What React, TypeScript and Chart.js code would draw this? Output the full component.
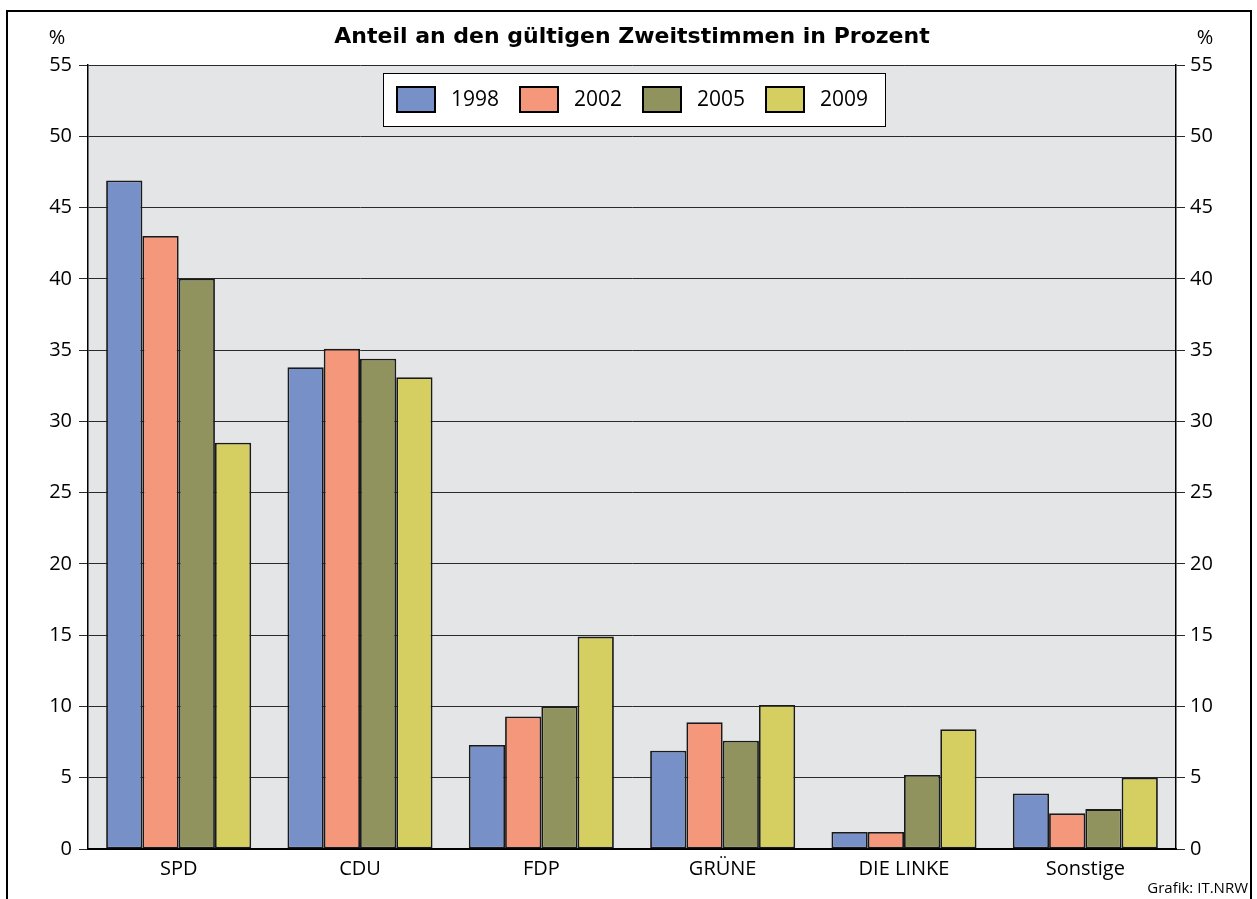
import React, { useEffect, useRef } from 'react';
import { Chart, registerables } from 'chart.js';

Chart.register(...registerables);

const categories = ['SPD', 'CDU', 'FDP', 'GRÜNE', 'DIE LINKE', 'Sonstige'];
const years = ['1998', '2002', '2005', '2009'];
const values1998 = [46.9, 33.8, 7.3, 6.9, 1.2, 3.9];
const values2002 = [43.0, 35.1, 9.3, 8.9, 1.2, 2.5];
const values2005 = [40.0, 34.4, 10.0, 7.6, 5.2, 2.8];
const values2009 = [28.5, 33.1, 14.9, 10.1, 8.4, 5.0];
const seriesColors = ['#7890c8', '#f5977a', '#91935f', '#d5cf62'];
const yMin = 0;
const yMax = 55;
const yStep = 5;
const titleText = 'Anteil an den gültigen Zweitstimmen in Prozent';
const unitLabel = '%';
const sourceText = 'Grafik: IT.NRW';

const FONT = '"Open Sans", "DejaVu Sans", sans-serif';
const TITLE_FONT = '"DejaVu Sans", sans-serif';

const decorPlugin = {
  id: 'decor',
  beforeDraw(chart: any) {
    const { ctx, chartArea } = chart;
    ctx.save();
    ctx.fillStyle = '#ffffff';
    ctx.fillRect(0, 0, chart.width, chart.height);
    ctx.fillStyle = '#e4e5e7';
    ctx.fillRect(chartArea.left, chartArea.top, chartArea.right - chartArea.left, chartArea.bottom - chartArea.top);
    ctx.restore();
  },
  afterDraw(chart: any) {
    const { ctx, chartArea } = chart;
    ctx.save();
    // frame
    ctx.strokeStyle = '#000';
    ctx.lineWidth = 2;
    ctx.strokeRect(7, 11, 1244, 940);
    // title
    ctx.fillStyle = '#000';
    ctx.font = `bold 22px ${TITLE_FONT}`;
    ctx.textAlign = 'center';
    ctx.textBaseline = 'middle';
    ctx.fillText(titleText, (chartArea.left + chartArea.right) / 2, 37);
    // unit labels
    ctx.font = `20px ${FONT}`;
    ctx.fillText(unitLabel, 57, 38);
    ctx.fillText(unitLabel, 1205, 38);
    // source
    ctx.font = `15px ${FONT}`;
    ctx.textAlign = 'right';
    ctx.fillText(sourceText, 1248, 889);
    // legend
    const lx = 383.5, ly = 73.5, lw = 502, lh = 53;
    ctx.fillStyle = '#ffffff';
    ctx.fillRect(lx, ly, lw, lh);
    ctx.strokeStyle = '#000';
    ctx.lineWidth = 1;
    ctx.strokeRect(lx, ly, lw, lh);
    ctx.font = `21px ${FONT}`;
    ctx.textAlign = 'left';
    ctx.textBaseline = 'middle';
    chart.data.datasets.forEach((ds: any, i: number) => {
      const sx = 397 + i * 123;
      ctx.fillStyle = ds.backgroundColor;
      ctx.fillRect(sx, 87, 38, 25);
      ctx.strokeStyle = '#000';
      ctx.lineWidth = 2;
      ctx.strokeRect(sx, 87, 38, 25);
      ctx.fillStyle = '#000';
      ctx.fillText(ds.label, sx + 54, 100);
    });
    ctx.restore();
  },
};

export default function App() {
  const ref = useRef<HTMLCanvasElement | null>(null);
  useEffect(() => {
    if (!ref.current) return;
    const allValues = [values1998, values2002, values2005, values2009];
    const chart = new Chart(ref.current, {
      type: 'bar',
      data: {
        labels: categories,
        datasets: years.map((y, i) => ({
          label: y,
          data: allValues[i],
          backgroundColor: seriesColors[i],
          borderColor: '#1a1a1a',
          borderWidth: 1.8,
          borderSkipped: false,
          categoryPercentage: 0.8,
          barPercentage: 1.0,
        })),
      },
      options: {
        responsive: false,
        animation: false,
        layout: { padding: { top: 65, left: 0, right: 0, bottom: 0 } },
        plugins: {
          legend: { display: false },
          title: { display: false },
          tooltip: { enabled: false },
        },
        scales: {
          x: {
            grid: { display: false, drawTicks: false },
            border: { display: true, color: '#000', width: 2 },
            ticks: { color: '#000', font: { family: FONT, size: 20 }, padding: 8 },
            afterFit(scale: any) { scale.height = 50; },
          },
          y: {
            position: 'left',
            min: yMin,
            max: yMax,
            ticks: { stepSize: yStep, color: '#000', font: { family: FONT, size: 20 }, padding: 7 },
            grid: { color: '#2a2a2a', lineWidth: 1, tickLength: 9, drawTicks: true },
            border: { display: true, color: '#000', width: 1.5 },
            afterFit(scale: any) { scale.width = 88; },
          },
          y2: {
            position: 'right',
            min: yMin,
            max: yMax,
            ticks: { stepSize: yStep, color: '#000', font: { family: FONT, size: 20 }, padding: 5 },
            grid: { drawOnChartArea: false, color: '#2a2a2a', lineWidth: 1, tickLength: 9, drawTicks: true },
            border: { display: true, color: '#000', width: 1.5 },
            afterFit(scale: any) { scale.width = 81; },
          },
        },
      },
      plugins: [decorPlugin],
    } as any);
    return () => chart.destroy();
  }, []);
  return (
    <div style={{ position: 'absolute', left: 0, top: 0, width: 1257, height: 899 }}>
      <canvas ref={ref} width={1257} height={899} style={{ width: 1257, height: 899, display: 'block' }} />
    </div>
  );
}
